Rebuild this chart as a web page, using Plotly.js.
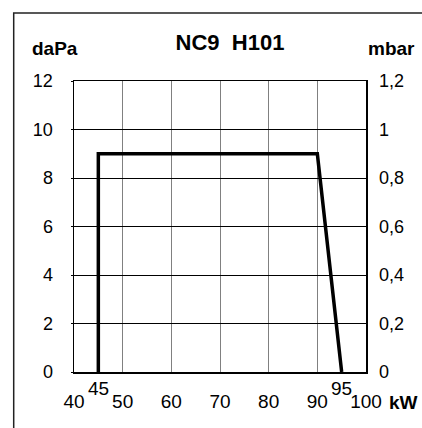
<!DOCTYPE html>
<html><head><meta charset="utf-8">
<script src="https://cdn.plot.ly/plotly-3.0.1.min.js"></script>
<style>html,body{margin:0;padding:0;background:#fff;}#c{width:422px;height:428px;}</style>
</head><body><div id="c"></div>
<script>
var powerKW = [45, 45, 90, 95];
var pressureDaPa = [0, 9, 9, 0];
var pressureMbar = [0, 0.9, 0.9, 0];
var xTicks = [40, 50, 60, 70, 80, 90, 100];
var extraTicks = [45, 95];
var yTicks = [0, 2, 4, 6, 8, 10, 12];
var y2Ticks = [0, 0.2, 0.4, 0.6, 0.8, 1, 1.2];
var y2Labels = ['0', '0,2', '0,4', '0,6', '0,8', '1', '1,2'];

var F = 'Liberation Sans, Arial, sans-serif';
var traces = [
  {x: powerKW, y: pressureDaPa, type: 'scatter', mode: 'lines',
   line: {color: '#000', width: 3.5}, hoverinfo: 'skip', showlegend: false},
  {x: powerKW, y: pressureMbar, yaxis: 'y2', type: 'scatter', mode: 'lines',
   line: {color: 'rgba(0,0,0,0)', width: 0}, hoverinfo: 'skip', showlegend: false}
];

function ann(text, xref, x, y, size) {
  return {text: text, xref: xref, yref: 'paper', x: x, y: y, xanchor: 'center', yanchor: 'middle',
    showarrow: false, font: {family: F, size: size, color: '#000'}};
}
var annotations = [
  ann('<b>daPa</b>', 'paper', -0.066, 1.113, 19),
  ann('<b>mbar</b>', 'paper', 1.087, 1.113, 19),
  ann('<b>kW</b>', 'paper', 1.128, -0.104, 19)
];
extraTicks.forEach(function (v) {
  annotations.push(ann(String(v), 'x', v, -0.058, 19));
});

var layout = {
  width: 422, height: 428,
  margin: {l: 73.5, r: 55.5, t: 81, b: 56.3},
  paper_bgcolor: '#fff', plot_bgcolor: '#fff',
  separators: ',.',
  title: {text: '<b>NC9  H101</b>', font: {family: F, size: 22, color: '#000'},
    x: 0.545, xref: 'container', xanchor: 'center', y: 0.902, yref: 'container', yanchor: 'middle'},
  xaxis: {range: [40, 100], tickvals: xTicks, ticktext: xTicks.map(String),
    showgrid: true, gridcolor: '#808080', gridwidth: 1,
    showline: true, linecolor: '#000', linewidth: 1.5, mirror: true,
    ticks: '', zeroline: false, fixedrange: true,
    ticklabelstandoff: 12,
    tickfont: {family: F, size: 19, color: '#000'}},
  yaxis: {range: [0, 12], tickvals: yTicks, ticktext: yTicks.map(String),
    showgrid: true, gridcolor: '#000', gridwidth: 1,
    showline: true, linecolor: '#000', linewidth: 1.5, mirror: true,
    ticks: 'outside', ticklen: 2, tickcolor: '#000', zeroline: false, fixedrange: true,
    ticklabelstandoff: 14,
    tickfont: {family: F, size: 18, color: '#000'}},
  yaxis2: {range: [0, 1.2], overlaying: 'y', side: 'right', tickvals: y2Ticks, ticktext: y2Labels,
    showgrid: false, showline: false, zeroline: false, ticks: '', fixedrange: true,
    ticklabelstandoff: 12,
    tickfont: {family: F, size: 18, color: '#000'}},
  annotations: annotations,
  shapes: [{type: 'rect', xref: 'paper', yref: 'paper', x0: -0.2065, x1: 1.4, y0: -0.4, y1: 1.234,
    line: {color: '#222', width: 1.5}, fillcolor: 'rgba(0,0,0,0)', layer: 'below'}]
};
Plotly.newPlot('c', traces, layout, {displayModeBar: false, staticPlot: true});
</script></body></html>
